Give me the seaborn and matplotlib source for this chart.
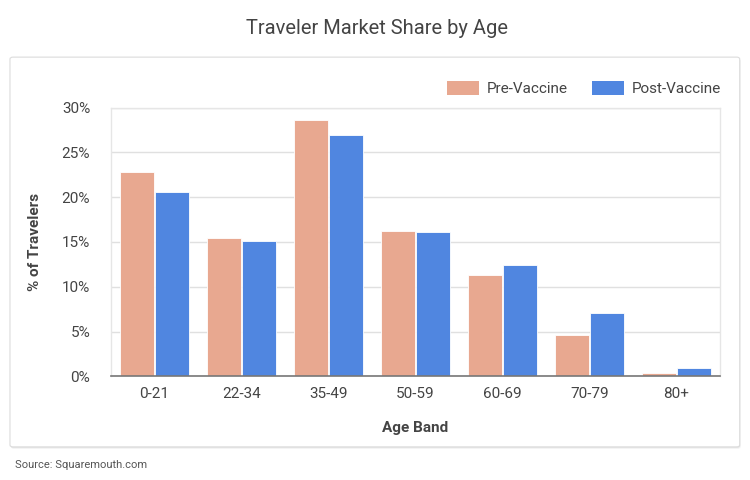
import matplotlib
matplotlib.use("Agg")
import matplotlib.pyplot as plt
import seaborn as sns
import pandas as pd
from matplotlib.patches import FancyBboxPatch, Rectangle

age_bands = ["0-21", "22-34", "35-49", "50-59", "60-69", "70-79", "80+"]
pre_vaccine = [22.8, 15.4, 28.6, 16.2, 11.3, 4.6, 0.4]
post_vaccine = [20.6, 15.1, 26.9, 16.1, 12.4, 7.1, 0.9]
series_names = ["Pre-Vaccine", "Post-Vaccine"]
y_ticks = [0, 5, 10, 15, 20, 25, 30]
y_tick_labels = ["0%", "5%", "10%", "15%", "20%", "25%", "30%"]

df = pd.DataFrame({
    "Age Band": age_bands * 2,
    "Share": pre_vaccine + post_vaccine,
    "Series": [series_names[0]] * len(age_bands) + [series_names[1]] * len(age_bands),
})

sns.set_theme(style="white")
plt.rcParams["font.family"] = ["Roboto", "DejaVu Sans"]

colors = {"Pre-Vaccine": "#E8A890", "Post-Vaccine": "#5086E0"}
text_col = "#444444"

fig = plt.figure(figsize=(7.5, 4.8), dpi=100)
fig.patch.set_facecolor("white")

# card with shadow
for i, a in enumerate([0.05, 0.04, 0.03]):
    off = (i + 1) * 0.0015
    fig.patches.append(FancyBboxPatch((0.0133 + off * 0.3, 0.069 - off), 0.973, 0.812,
                                      boxstyle="round,pad=0,rounding_size=0.004",
                                      transform=fig.transFigure, facecolor="black",
                                      edgecolor="none", alpha=a, zorder=0))
fig.patches.append(FancyBboxPatch((0.0133, 0.069), 0.973, 0.812,
                                  boxstyle="round,pad=0,rounding_size=0.004",
                                  transform=fig.transFigure, facecolor="white",
                                  edgecolor="#dcdcdc", linewidth=0.8, zorder=1))

ax = fig.add_axes([0.148, 0.216, 0.812, 0.560])
ax.set_zorder(2)
sns.barplot(data=df, x="Age Band", y="Share", hue="Series", palette=colors,
            width=0.8, gap=0.02, edgecolor="white", linewidth=0.6,
            saturation=1, ax=ax, legend=False, zorder=3)

ax.set_ylim(0, 30)
ax.set_yticks(y_ticks)
ax.set_yticklabels(y_tick_labels)
ax.set_xlim(-0.5, len(age_bands) - 0.5)
ax.grid(axis="y", color="#e0e0e0", linewidth=1, zorder=0)
ax.set_axisbelow(True)
for s in ["top", "right", "left"]:
    ax.spines[s].set_color("#e6e6e6")
    ax.spines[s].set_linewidth(1)
ax.spines["bottom"].set_color("#777777")
ax.spines["bottom"].set_linewidth(1.2)
ax.spines["bottom"].set_zorder(5)
ax.tick_params(axis="both", length=0, labelsize=11, colors=text_col, pad=8)
ax.tick_params(axis="y", pad=15)
ax.set_xlabel("Age Band", fontsize=11, fontweight="bold", color=text_col, labelpad=14)
ax.set_ylabel("% of Travelers", fontsize=11, fontweight="bold", color=text_col, labelpad=14)

handles = [Rectangle((0, 0), 1, 1, facecolor=colors[n], edgecolor="none") for n in series_names]
leg = ax.legend(handles, series_names, loc="lower right", bbox_to_anchor=(1.012, 1.02),
                ncol=2, frameon=False, fontsize=11, handlelength=2.1, handleheight=1.0,
                columnspacing=1.6, handletextpad=0.5, borderaxespad=0)
for t in leg.get_texts():
    t.set_color(text_col)

fig.text(0.503, 0.94, "Traveler Market Share by Age", ha="center", va="center",
         fontsize=14.5, color=text_col)
fig.text(0.02, 0.031, "Source: Squaremouth.com", ha="left", va="center",
         fontsize=8.0, color="#555555")

fig.savefig("out.png", dpi=100, facecolor="white")
